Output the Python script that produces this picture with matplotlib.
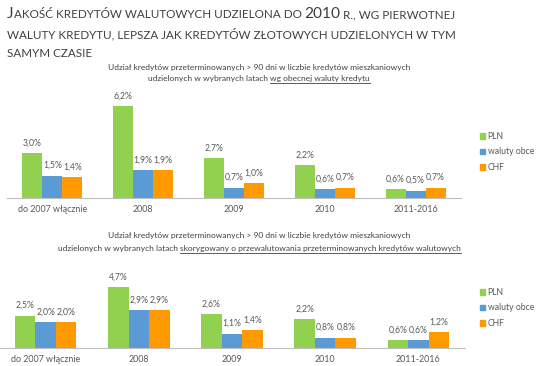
import numpy as np
import matplotlib
matplotlib.use("Agg")
import matplotlib.pyplot as plt
from matplotlib.patches import Patch

plt.rcParams["font.family"] = ["Lato", "DejaVu Sans"]

categories = ["do 2007 włącznie", "2008", "2009", "2010", "2011-2016"]
series = ["PLN", "waluty obce", "CHF"]
colors = ["#92D050", "#5B9BD5", "#FF9900"]

top_pln = [3.0, 6.2, 2.7, 2.2, 0.6]
top_fx = [1.5, 1.9, 0.7, 0.6, 0.5]
top_chf = [1.4, 1.9, 1.0, 0.7, 0.7]

bot_pln = [2.5, 4.7, 2.6, 2.2, 0.6]
bot_fx = [2.0, 2.9, 1.1, 0.8, 0.6]
bot_chf = [2.0, 2.9, 1.4, 0.8, 1.2]

W, H = 540, 366
fig = plt.figure(figsize=(W / 100, H / 100), dpi=100)
renderer = fig.canvas.get_renderer()

TXT = "#404040"
LBL = "#595959"


def fx(x):
    return x / W


def fy(y):
    return 1 - y / H


def place_parts(parts, x, y, ha="left", color=TXT):
    # parts: list of (text, fontsize, underline)
    objs = []
    widths = []
    for s, size, ul in parts:
        t = fig.text(0, fy(y), s, fontsize=size, color=color, va="baseline")
        bb = t.get_window_extent(renderer)
        objs.append(t)
        widths.append(bb.width)
    total = sum(widths)
    x0 = x - total / 2 if ha == "center" else x
    for (s, size, ul), t, w in zip(parts, objs, widths):
        t.set_x(fx(x0))
        if ul:
            fig.add_artist(plt.Line2D([fx(x0), fx(x0 + w)], [fy(y + 2), fy(y + 2)],
                                      color=color, lw=0.6))
        x0 += w


# main title in small caps look
big, small = 11.2, 8.4
place_parts([("J", big, False), ("AKOŚĆ KREDYTÓW WALUTOWYCH UDZIELONA DO ", small, False),
             ("2010", big, False), (" R., WG PIERWOTNEJ", small, False)], 7, 18)
place_parts([("WALUTY KREDYTU, LEPSZA JAK KREDYTÓW ZŁOTOWYCH UDZIELONYCH W TYM", small, False)], 7, 38)
place_parts([("SAMYM CZASIE", small, False)], 7, 57)


def chart(rect, pln, fxv, chf, ymax, title1, title2a, title2b, t_y, t_gap, leg_y):
    ax = fig.add_axes(rect)
    x = np.arange(len(categories))
    w = 0.22
    for i, (vals, c) in enumerate(zip([pln, fxv, chf], colors)):
        bars = ax.bar(x + (i - 1) * w, vals, width=w, color=c, label=series[i])
        for b, v in zip(bars, vals):
            ax.annotate(f"{v:.1f}%".replace(".", ","), (b.get_x() + b.get_width() / 2, v),
                        xytext=(0, 4), textcoords="offset points", ha="center", va="bottom",
                        fontsize=6.2, color=LBL)
    ax.set_xlim(-0.5, len(categories) - 0.5)
    ax.set_ylim(0, ymax)
    for s in ["top", "left", "right"]:
        ax.spines[s].set_visible(False)
    ax.spines["bottom"].set_color("#BFBFBF")
    ax.spines["bottom"].set_linewidth(0.8)
    ax.set_yticks([])
    ax.set_xticks(x)
    ax.set_xticklabels(categories, fontsize=6.4, color=LBL)
    ax.tick_params(axis="x", length=0, pad=5)
    handles = [Patch(color=c) for c in colors]
    fig.legend(handles, series, loc="center left", bbox_to_anchor=(fx(472), fy(leg_y)),
               frameon=False, fontsize=6.2, handlelength=0.6, handleheight=0.6,
               handletextpad=0.3, labelspacing=0.75, labelcolor=LBL)
    cx = 259
    place_parts([(title1, 6.0, False)], cx, t_y, ha="center")
    place_parts([(title2a, 6.0, False), (title2b, 6.0, True)], cx, t_y + t_gap, ha="center")
    return ax


chart([fx(7), fy(198), fx(454), (198 - 94) / H], top_pln, top_fx, top_chf, 7.0,
      "Udział kredytów przeterminowanych > 90 dni w liczbie kredytów mieszkaniowych",
      "udzielonych w wybranych latach ", "wg obecnej waluty kredytu", 70, 11, 152)

chart([fx(-1), fy(348), fx(466), (348 - 276.5) / H], bot_pln, bot_fx, bot_chf, 5.5,
      "Udział kredytów przeterminowanych > 90 dni w liczbie kredytów mieszkaniowych",
      "udzielonych w wybranych latach ", "skorygowany o przewalutowania przeterminowanych kredytów walutowych",
      238, 13, 308)

fig.savefig("out.png", dpi=100)
